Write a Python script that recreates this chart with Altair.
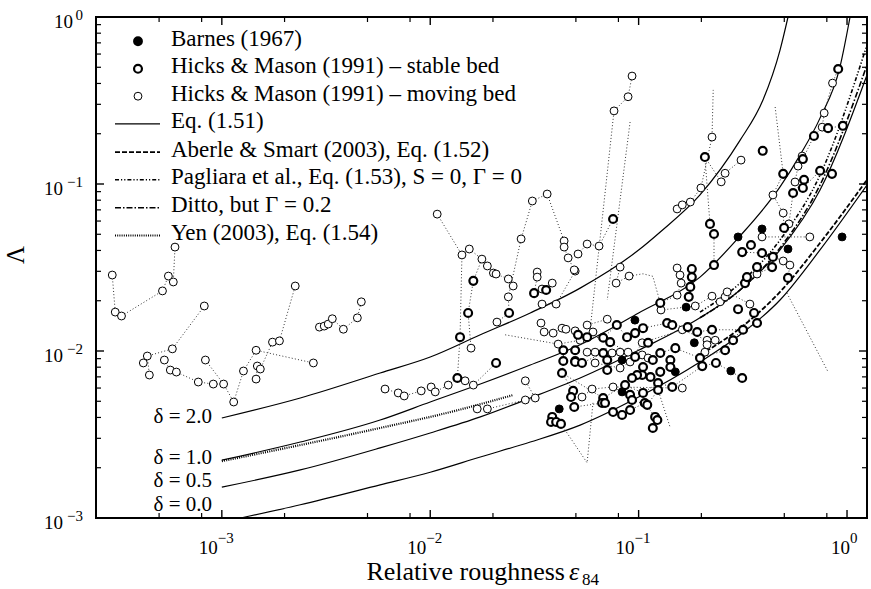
import altair as alt
import pandas as pd

FONT = "Liberation Serif, Times New Roman, Times, DejaVu Serif, serif"
X_DOMAIN = [2.49e-4, 1.247]
Y_DOMAIN = [1e-3, 1.0]

# ---------------- Eq. (1.51) curves ----------------
d20_x = [1.0e-3, 2.38e-3, 5.75e-3, 1.0e-2, 1.74e-2, 3.02e-2, 5.24e-2, 0.1, 0.127, 0.197, 0.307, 0.395, 0.477, 0.521]
d20_y = [3.97e-3, 5.23e-3, 7.38e-3, 9.2e-3, 1.25e-2, 1.69e-2, 2.38e-2, 4.02e-2, 5.16e-2, 8.6e-2, 0.183, 0.318, 0.634, 1.0]
d10_x = [1.0e-3, 2.38e-3, 5.75e-3, 1.0e-2, 1.74e-2, 3.02e-2, 5.24e-2, 0.1, 0.197, 0.307, 0.477, 0.595, 0.742, 0.925, 1.034]
d10_y = [2.22e-3, 2.85e-3, 3.86e-3, 4.95e-3, 6.34e-3, 8.24e-3, 1.09e-2, 1.69e-2, 2.77e-2, 4.89e-2, 9.6e-2, 0.149, 0.248, 0.502, 1.0]
d05_x = [1.0e-3, 2.38e-3, 5.75e-3, 1.0e-2, 1.74e-2, 3.02e-2, 5.24e-2, 0.1, 0.197, 0.307, 0.477, 0.742, 1.247]
d05_y = [1.53e-3, 1.94e-3, 2.63e-3, 3.23e-3, 4.03e-3, 5.23e-3, 6.89e-3, 1.01e-2, 1.58e-2, 2.32e-2, 4.03e-2, 9.2e-2, 0.45]
d00_x = [1.23e-3, 2.38e-3, 5.75e-3, 1.0e-2, 1.74e-2, 3.02e-2, 5.24e-2, 0.1, 0.197, 0.307, 0.477, 0.742, 1.247]
d00_y = [1.0e-3, 1.20e-3, 1.58e-3, 1.88e-3, 2.32e-3, 2.85e-3, 3.60e-3, 5.3e-3, 8.6e-3, 1.25e-2, 2.02e-2, 4.03e-2, 9.86e-2]

aberle_x = [0.197, 0.307, 0.477, 0.742, 1.247]
aberle_y = [9.47e-3, 1.37e-2, 2.26e-2, 4.43e-2, 0.106]
pagliara_x = [0.197, 0.307, 0.477, 0.742, 1.247]
pagliara_y = [1.71e-2, 2.55e-2, 4.62e-2, 0.113, 0.680]
ditto_x = [0.197, 0.307, 0.477, 0.742, 1.247]
ditto_y = [1.58e-2, 2.32e-2, 4.14e-2, 9.86e-2, 0.516]
yen_x = [1.0e-3, 5.75e-3, 1.25e-2, 2.5e-2]
yen_y = [2.19e-3, 3.46e-3, 4.31e-3, 5.45e-3]

# ---------------- measured data (series joined by dotted lines) ----------------
M, S, B, G = "moving", "stable", "barnes", "none"

left_a = [(2.98e-4, 2.85e-2, M), (3.08e-4, 1.71e-2, M), (3.30e-4, 1.62e-2, M), (5.19e-4, 2.29e-2, M),
          (5.54e-4, 2.81e-2, M), (5.85e-4, 2.59e-2, M), (5.96e-4, 4.19e-2, M)]
left_b = [(4.20e-4, 8.48e-3, M), (4.39e-4, 9.33e-3, M), (5.79e-4, 1.03e-2, M), (8.24e-4, 1.86e-2, M)]
left_b2 = [(4.39e-4, 9.33e-3, G), (4.49e-4, 7.18e-3, M)]
left_c = [(5.30e-4, 8.83e-3, M), (5.66e-4, 7.69e-3, M), (6.05e-4, 7.48e-3, M), (7.71e-4, 6.52e-3, M),
          (9.10e-4, 6.34e-3, M), (1.02e-3, 6.34e-3, G)]
left_d = [(8.34e-4, 8.83e-3, M), (1.02e-3, 6.34e-3, M), (1.14e-3, 4.95e-3, M), (1.27e-3, 7.59e-3, M),
          (1.46e-3, 1.01e-2, M), (2.75e-3, 8.48e-3, M)]
left_e = [(1.46e-3, 6.79e-3, M), (1.48e-3, 8.13e-3, M), (1.53e-3, 7.80e-3, M), (1.75e-3, 1.13e-2, M),
          (1.89e-3, 1.15e-2, M), (2.25e-3, 2.45e-2, M)]
left_f = [(2.94e-3, 1.39e-2, M), (3.10e-3, 1.41e-2, M), (3.24e-3, 1.45e-2, M), (3.39e-3, 1.56e-2, M),
          (3.83e-3, 1.35e-2, M), (4.47e-3, 1.58e-2, M), (4.67e-3, 1.97e-2, M)]

mid_a = [(6.07e-3, 5.92e-3, M), (7.02e-3, 5.61e-3, M), (7.50e-3, 5.38e-3, M), (9.05e-3, 5.77e-3, M),
         (1.01e-2, 6.09e-3, M), (1.057e-2, 5.69e-3, M), (1.22e-2, 6.25e-3, M), (1.35e-2, 6.89e-3, S),
         (1.47e-2, 6.63e-3, M), (1.61e-2, 6.25e-3, M), (2.07e-2, 8.48e-3, S)]
mid_b = [(1.68e-2, 4.50e-3, M), (1.88e-2, 4.50e-3, M), (2.86e-2, 5.09e-3, M), (3.19e-2, 5.23e-3, M),
         (2.86e-2, 6.63e-3, M)]
mid_c = [(1.42e-2, 3.76e-2, M), (1.39e-2, 1.21e-2, S), (1.35e-2, 6.89e-3, G)]
mid_d = [(1.57e-2, 1.04e-2, M), (1.52e-2, 1.69e-2, S), (1.61e-2, 2.63e-2, S), (1.77e-2, 3.55e-2, G)]
mid_e = [(2.09e-2, 1.49e-2, M), (2.39e-2, 1.69e-2, S), (2.37e-2, 2.11e-2, G)]
mid_f = [(3.40e-2, 1.47e-2, M), (3.52e-2, 1.30e-2, M), (3.89e-2, 1.28e-2, M), (4.29e-2, 1.37e-2, M),
         (4.48e-2, 1.35e-2, M), (4.96e-2, 1.32e-2, M)]
mid_g = [(3.44e-2, 1.91e-2, M), (4.02e-2, 1.91e-2, M), (4.96e-2, 3.01e-2, M)]
mid_h = [(4.11e-2, 1.10e-2, M), (4.35e-2, 1.01e-2, S), (4.35e-2, 8.71e-3, S), (4.29e-2, 7.38e-3, S),
         (4.85e-2, 5.77e-3, S), (4.74e-2, 5.30e-3, S), (4.91e-2, 4.62e-3, S)]
mid_i = [(4.96e-2, 1.01e-2, S), (4.96e-2, 8.71e-3, S)]
mid_j = [(3.85e-2, 4.03e-3, S), (3.80e-2, 3.76e-3, S), (4.02e-2, 3.76e-3, S), (4.24e-2, 3.66e-3, S),
         (5.66e-2, 2.14e-3, G), (6.04e-2, 4.9e-3, G)]
mid_k = [(2.29e-2, 1.25e-2, G), (4.11e-2, 1.10e-2, G)]

up_a = [(1.08e-2, 6.6e-2, M), (1.42e-2, 3.76e-2, G), (1.54e-2, 4.08e-2, M), (1.77e-2, 3.55e-2, M),
        (1.88e-2, 3.23e-2, M), (2.01e-2, 2.93e-2, M), (2.07e-2, 2.89e-2, M), (2.37e-2, 2.70e-2, M),
        (2.50e-2, 2.45e-2, M)]
up_b = [(2.37e-2, 2.11e-2, M), (2.73e-2, 4.69e-2, M), (3.09e-2, 7.91e-2, M), (3.64e-2, 8.71e-2, M),
        (4.39e-2, 4.56e-2, M), (4.39e-2, 4.19e-2, M), (4.59e-2, 3.61e-2, M), (4.91e-2, 3.06e-2, M)]
up_c = [(5.12e-2, 3.81e-2, M), (5.66e-2, 4.37e-2, M), (6.46e-2, 4.25e-2, M), (7.54e-2, 6.17e-2, S)]
up_d = [(3.26e-2, 2.97e-2, M), (3.26e-2, 2.77e-2, M), (3.15e-2, 2.22e-2, S), (3.44e-2, 2.35e-2, M),
        (3.60e-2, 2.32e-2, S), (3.85e-2, 2.55e-2, M)]
up_e = [(5.85e-2, 1.34e-2, G), (7.62e-2, 0.274, M), (8.90e-2, 0.333, M), (9.3e-2, 0.443, M)]
up_f = [(9.1e-2, 0.235, G), (7.07e-2, 2.02e-2, G)]
up_g = [(8.15e-2, 3.18e-2, M), (7.80e-2, 2.55e-2, M), (9.0e-2, 2.81e-2, M), (0.105, 2.9e-2, G),
        (0.117, 2.8e-2, G), (0.127, 1.94e-2, S)]

c1 = [(5.12e-2, 1.25e-2, S), (5.66e-2, 1.21e-2, S), (6.76e-2, 1.20e-2, S), (7.86e-2, 1.43e-2, S),
      (8.80e-2, 1.21e-2, S), (9.62e-2, 1.28e-2, S), (0.105, 1.37e-2, S), (0.137, 1.47e-2, S),
      (0.145, 1.43e-2, S), (0.172, 1.39e-2, S), (0.191, 1.30e-2, S), (0.225, 1.34e-2, S),
      (0.317, 1.34e-2, S), (0.370, 1.47e-2, S)]
c2 = [(4.96e-2, 8.6e-3, S), (5.35e-2, 8.48e-3, S), (6.76e-2, 9.73e-3, S), (7.30e-2, 1.13e-2, S),
      (9.62e-2, 9.22e-3, S), (0.117, 8.83e-3, S), (0.127, 9.73e-3, S), (0.150, 1.04e-2, S),
      (0.197, 9.08e-3, S), (0.260, 1.01e-2, S), (0.284, 1.16e-2, S), (0.358, 1.69e-2, S)]
c3 = [(4.29e-2, 7.38e-3, G), (6.76e-2, 5.23e-3, S), (8.61e-2, 6.25e-3, S), (0.105, 5.61e-3, S),
      (0.124, 6.43e-3, S), (0.145, 6.09e-3, S), (0.202, 8.12e-3, S), (0.235, 8.48e-3, S), (0.314, 6.89e-3, S)]
c4 = [(4.91e-2, 4.62e-3, G), (6.68e-2, 4.88e-3, S), (6.9e-2, 4.88e-3, S), (7.54e-2, 4.31e-3, S),
      (8.33e-2, 4.14e-3, S), (9.1e-2, 4.43e-3, S), (0.107, 4.88e-3, S), (0.120, 4.03e-3, S),
      (0.123, 3.86e-3, S), (0.117, 3.46e-3, S)]
c5 = [(4.11e-2, 1.10e-2, G), (5.24e-2, 1.16e-2, M), (6.04e-2, 1.30e-2, M), (5.66e-2, 1.43e-2, M),
      (7.07e-2, 1.55e-2, M)]
c6 = [(5.66e-2, 9.84e-3, M), (6.18e-2, 9.84e-3, M), (7.46e-2, 9.73e-3, M), (8.15e-2, 9.84e-3, M),
      (8.90e-2, 9.84e-3, M), (0.104, 9.47e-3, M), (0.111, 9.08e-3, M)]
c7 = [(6.18e-2, 8.48e-3, M), (8.15e-2, 7.91e-3, M), (9.1e-2, 8.6e-3, M), (0.104, 1.12e-2, M),
      (0.162, 1.34e-2, M), (0.213, 1.16e-2, M), (0.233, 1.16e-2, M), (0.213, 1.09e-2, M), (0.208, 9.84e-3, M)]
c8 = [(5.35e-2, 5.30e-3, M), (5.98e-2, 5.92e-3, M), (7.54e-2, 6.09e-3, M), (0.162, 6.0e-3, M)]
c9 = [(0.128, 1.76e-2, M), (0.187, 1.86e-2, M), (0.225, 2.13e-2, M), (0.246, 1.97e-2, M),
      (0.260, 2.11e-2, M), (0.266, 2.26e-2, M), (0.342, 1.91e-2, M)]
c10 = [(0.153, 3.14e-2, M), (0.158, 2.85e-2, M), (0.160, 2.55e-2, M), (0.153, 2.16e-2, M), (0.127, 1.94e-2, G)]
c11 = [(0.142, 8.83e-3, S), (0.142, 8.02e-3, S), (0.127, 7.50e-3, S), (0.114, 6.99e-3, S),
       (0.104, 7.18e-3, S), (9.83e-2, 7.18e-3, S), (9.3e-2, 6.89e-3, S)]
c12 = [(9.1e-2, 5.46e-3, S), (9.3e-2, 5.09e-3, S), (0.110, 4.76e-3, S), (0.124, 5.84e-3, S), (0.142, 3.46e-3, G)]

r1 = [(0.153, 7.09e-2, M), (0.162, 7.50e-2, M), (0.177, 7.80e-2, M), (0.199, 9.47e-2, M), (0.225, 0.191, M),
      (0.228, 0.366, G)]
r2 = [(0.208, 0.145, S), (0.249, 0.103, M), (0.260, 0.116, M), (0.310, 0.139, M)]
r3 = [(0.208, 0.145, G), (0.220, 5.77e-2, S), (0.230, 5.02e-2, S), (0.230, 3.27e-2, S)]
r4 = [(0.452, 0.289, G), (0.494, 0.115, S), (0.441, 8.6e-2, M), (0.494, 6.70e-2, M), (0.499, 5.46e-2, S)]
r5 = [(0.563, 0.1028, M), (0.582, 0.128, M), (0.609, 0.147, M), (0.614, 0.141, S), (0.694, 0.194, S),
      (0.760, 0.219, M), (0.777, 0.266, M), (0.852, 0.402, M), (0.907, 0.488, S)]
r6 = [(0.760, 0.219, G), (0.811, 0.216, S), (0.955, 0.223, S)]
r7 = [(0.526, 5.77e-2, M), (0.551, 8.83e-2, S), (0.622, 0.106, S), (0.614, 9.47e-2, S), (0.743, 0.120, S),
      (0.847, 0.115, S)]
r8 = [(0.346, 4.31e-2, S), (0.314, 3.91e-2, S), (0.391, 3.86e-2, S), (0.441, 3.66e-2, S), (0.494, 3.46e-2, M),
      (0.532, 3.27e-2, M), (0.521, 2.74e-2, S)]
r9 = [(0.391, 4.82e-2, M), (0.663, 4.82e-2, M)]
r10 = [(0.370, 3.18e-2, S), (0.437, 3.18e-2, S), (0.370, 2.89e-2, M), (0.324, 2.55e-2, S), (0.331, 2.77e-2, S)]
r11 = [(0.180, 3.10e-2, S), (0.180, 2.77e-2, S), (0.177, 2.42e-2, S), (0.174, 2.11e-2, S)]
g1 = [(0.515, 2.22e-2, G), (0.811, 7.5e-3, G)]

singles = [(0.111, 1.12e-2, S), (0.105, 8.02e-3, S), (7.07e-2, 8.83e-3, S), (7.07e-2, 7.69e-3, S),
           (0.300, 1.78e-2, S), (0.394, 0.158, S)]

barnes = [(0.300, 4.82e-2), (0.391, 5.38e-2), (0.521, 4.08e-2), (0.947, 4.82e-2), (0.169, 1.83e-2),
          (9.6e-2, 1.53e-2), (8.33e-2, 8.83e-3), (0.150, 7.50e-3), (0.185, 1.12e-2), (8.33e-2, 5.69e-3),
          (0.277, 7.6e-3), (4.16e-2, 4.50e-3)]

all_series = [left_a, left_b, left_b2, left_c, left_d, left_e, left_f, mid_a, mid_b, mid_c, mid_d, mid_e,
              mid_f, mid_g, mid_h, mid_i, mid_j, mid_k, up_a, up_b, up_c, up_d, up_e, up_f, up_g,
              c1, c2, c3, c4, c5, c6, c7, c8, c9, c10, c11, c12,
              r1, r2, r3, r4, r5, r6, r7, r8, r9, r10, r11, g1] + [[p] for p in singles]

# axis ticks
x_major = [1e-3, 1e-2, 1e-1, 1.0]
x_minor = [5e-4, 8e-4, 2e-3, 5e-3, 8e-3, 2e-2, 5e-2, 8e-2, 0.2, 0.5, 0.8]
y_major = [1e-3, 1e-2, 1e-1, 1.0]
y_minor = [2e-3, 3e-3, 4e-3, 5e-3, 6e-3, 7e-3, 8e-3, 9e-3,
           2e-2, 3e-2, 4e-2, 5e-2, 6e-2, 7e-2, 8e-2, 9e-2,
           0.2, 0.3, 0.4, 0.5, 0.6, 0.7, 0.8, 0.9]
neg_exp_vals = [1e-3, 1e-2, 1e-1]
neg_exp_txt = ["−3", "−2", "−1"]

legend_labels = ["Barnes (1967)", "Hicks & Mason (1991) – stable bed", "Hicks & Mason (1991) – moving bed",
                 "Eq. (1.51)", "Aberle & Smart (2003), Eq. (1.52)",
                 "Pagliara et al., Eq. (1.53), S = 0, Γ = 0", "Ditto, but Γ = 0.2", "Yen (2003), Eq. (1.54)"]
delta_labels = ["δ = 2.0", "δ = 1.0", "δ = 0.5", "δ = 0.0"]

# ---------------- build tables ----------------
rows = []
for sid, ser in enumerate(all_series):
    for k, p in enumerate(ser):
        rows.append({"x": p[0], "y": p[1], "kind": p[2], "series": sid, "order": k})
pts = pd.DataFrame(rows)
bar = pd.DataFrame({"x": [p[0] for p in barnes], "y": [p[1] for p in barnes]})


def curve_df(xs, ys, name):
    return pd.DataFrame({"x": xs, "y": ys, "curve": name, "order": list(range(len(xs)))})


eq_df = pd.concat([curve_df(d20_x, d20_y, "d20"), curve_df(d10_x, d10_y, "d10"),
                   curve_df(d05_x, d05_y, "d05"), curve_df(d00_x, d00_y, "d00")])

xsc = alt.Scale(type="log", domain=X_DOMAIN, nice=False)
ysc = alt.Scale(type="log", domain=Y_DOMAIN, nice=False)
X = alt.X("x:Q", scale=xsc, axis=None)
Y = alt.Y("y:Q", scale=ysc, axis=None)
ONE = pd.DataFrame({"k": [0]})
W, H = 771, 501

layers = []


def line_layer(df, dash=None, width=1.2, detail=True):
    kw = dict(color="black", strokeWidth=width, interpolate="monotone", clip=True)
    if dash:
        kw["strokeDash"] = dash
    enc = dict(x=X, y=Y, order="order:Q")
    if detail:
        enc["detail"] = "curve:N"
    return alt.Chart(df).mark_line(**kw).encode(**enc)


layers.append(line_layer(eq_df, width=1.2))
layers.append(line_layer(curve_df(aberle_x, aberle_y, "a"), dash=[5, 2], width=1.8))
layers.append(line_layer(curve_df(pagliara_x, pagliara_y, "p"), dash=[4, 2, 1.2, 2, 1.2, 2], width=1.6))
layers.append(line_layer(curve_df(ditto_x, ditto_y, "d"), dash=[6, 2, 1.5, 2], width=1.6))
layers.append(line_layer(curve_df(yen_x, yen_y, "y"), dash=[1, 1.2], width=2.2))

# dotted lines joining measured series
layers.append(alt.Chart(pts).mark_line(color="#333333", strokeWidth=1, strokeDash=[1, 2.2], clip=True)
              .encode(x=X, y=Y, detail="series:N", order="order:Q"))

layers.append(alt.Chart(pts[pts.kind == M]).mark_point(shape="circle", filled=True, fill="white", stroke="black",
                                                         strokeWidth=1, size=62, opacity=1)
              .encode(x=X, y=Y))
layers.append(alt.Chart(pts[pts.kind == S]).mark_point(shape="circle", filled=True, fill="white", stroke="black",
                                                         strokeWidth=2.2, size=62, opacity=1)
              .encode(x=X, y=Y))
layers.append(alt.Chart(bar).mark_point(shape="circle", filled=True, fill="black", stroke="black",
                                        strokeWidth=1, size=62, opacity=1).encode(x=X, y=Y))

# ---------------- inward ticks ----------------
for vals, ln, w in [(x_major, 8, 1.4), (x_minor, 5, 1.2)]:
    d = pd.DataFrame({"x": vals})
    layers.append(alt.Chart(d).mark_rule(color="black", strokeWidth=w)
                  .encode(x=X, y=alt.value(H), y2=alt.value(H - ln)))
    layers.append(alt.Chart(d).mark_rule(color="black", strokeWidth=w)
                  .encode(x=X, y=alt.value(0), y2=alt.value(ln)))
for vals, ln, w in [(y_major, 8, 1.4), (y_minor, 5, 1.2)]:
    d = pd.DataFrame({"y": vals})
    layers.append(alt.Chart(d).mark_rule(color="black", strokeWidth=w)
                  .encode(y=Y, x=alt.value(0), x2=alt.value(ln)))
    layers.append(alt.Chart(d).mark_rule(color="black", strokeWidth=w)
                  .encode(y=Y, x=alt.value(W), x2=alt.value(W - ln)))

# ---------------- tick labels ----------------
neg_x = pd.DataFrame({"x": neg_exp_vals, "e": neg_exp_txt})
one_x = pd.DataFrame({"x": [1.0], "e": ["0"]})
layers.append(alt.Chart(neg_x).mark_text(font=FONT, fontSize=19, align="right", dx=-4)
              .encode(x=X, y=alt.value(531), text=alt.value("10")))
layers.append(alt.Chart(neg_x).mark_text(font=FONT, fontSize=15, align="left", dx=-4)
              .encode(x=X, y=alt.value(521), text="e:N"))
layers.append(alt.Chart(one_x).mark_text(font=FONT, fontSize=19, align="right", dx=3)
              .encode(x=X, y=alt.value(531), text=alt.value("10")))
layers.append(alt.Chart(one_x).mark_text(font=FONT, fontSize=15, align="left", dx=3)
              .encode(x=X, y=alt.value(521), text="e:N"))

neg_y = pd.DataFrame({"y": neg_exp_vals, "e": neg_exp_txt})
one_y = pd.DataFrame({"y": [1.0], "e": ["0"]})
layers.append(alt.Chart(neg_y).mark_text(font=FONT, fontSize=19, align="right", dy=5)
              .encode(y=Y, x=alt.value(-33), text=alt.value("10")))
layers.append(alt.Chart(neg_y).mark_text(font=FONT, fontSize=15, align="right", dy=-2)
              .encode(y=Y, x=alt.value(-13), text="e:N"))
layers.append(alt.Chart(one_y).mark_text(font=FONT, fontSize=19, align="right", dy=5)
              .encode(y=Y, x=alt.value(-23), text=alt.value("10")))
layers.append(alt.Chart(one_y).mark_text(font=FONT, fontSize=15, align="right", dy=-2)
              .encode(y=Y, x=alt.value(-13), text="e:N"))


def text_at(s, x, y, size=21, align="left", style="normal", angle=0, baseline="alphabetic"):
    return alt.Chart(ONE).mark_text(font=FONT, fontSize=size, align=align, fontStyle=style, angle=angle,
                                    baseline=baseline, color="black").encode(
        x=alt.value(x), y=alt.value(y), text=alt.value(s))


# axis titles
layers.append(text_at("Relative roughness", 469, 563, size=26, align="right"))
layers.append(text_at("ε", 473, 563, size=26, style="italic"))
layers.append(text_at("84", 486, 568, size=17))
layers.append(text_at("Λ", -80, 238, size=25, align="center", angle=270, baseline="middle"))

# delta labels
for lab, yb in zip(delta_labels, [406, 447, 470, 494]):
    layers.append(text_at(lab, 116, yb, size=21, align="right"))

# ---------------- legend ----------------
leg_base = [28.7, 56.3, 83.7, 111.3, 139.7, 167.3, 195.3, 223.0]
for lab, yb in zip(legend_labels, leg_base):
    layers.append(text_at(lab, 75, yb, size=23))
cy = [b - 4.5 for b in leg_base]
layers.append(alt.Chart(ONE).mark_point(shape="circle", filled=True, fill="black", stroke="black", size=62,
                                        opacity=1).encode(x=alt.value(42), y=alt.value(cy[0])))
layers.append(alt.Chart(ONE).mark_point(shape="circle", filled=True, fill="white", stroke="black",
                                        strokeWidth=2.2, size=62, opacity=1)
              .encode(x=alt.value(42), y=alt.value(cy[1])))
layers.append(alt.Chart(ONE).mark_point(shape="circle", filled=True, fill="white", stroke="black",
                                        strokeWidth=1, size=62, opacity=1)
              .encode(x=alt.value(42), y=alt.value(cy[2])))
for i, (dash, w) in enumerate([(None, 1.2), ([5, 2], 1.8), ([4, 2, 1.2, 2, 1.2, 2], 1.6),
                               ([6, 2, 1.5, 2], 1.6), ([1, 1.2], 2.2)]):
    kw = dict(color="black", strokeWidth=w)
    if dash:
        kw["strokeDash"] = dash
    layers.append(alt.Chart(ONE).mark_rule(**kw).encode(x=alt.value(19), x2=alt.value(64),
                                                         y=alt.value(cy[3 + i])))

chart = alt.layer(*layers).properties(
    width=W, height=H,
    padding={"left": 96, "top": 17, "right": 4, "bottom": 71},
    autosize=alt.AutoSizeParams(type="none"),
).configure_view(stroke="black", strokeWidth=2)

chart.save("out.html", embed_options={"renderer": "svg", "actions": False})
